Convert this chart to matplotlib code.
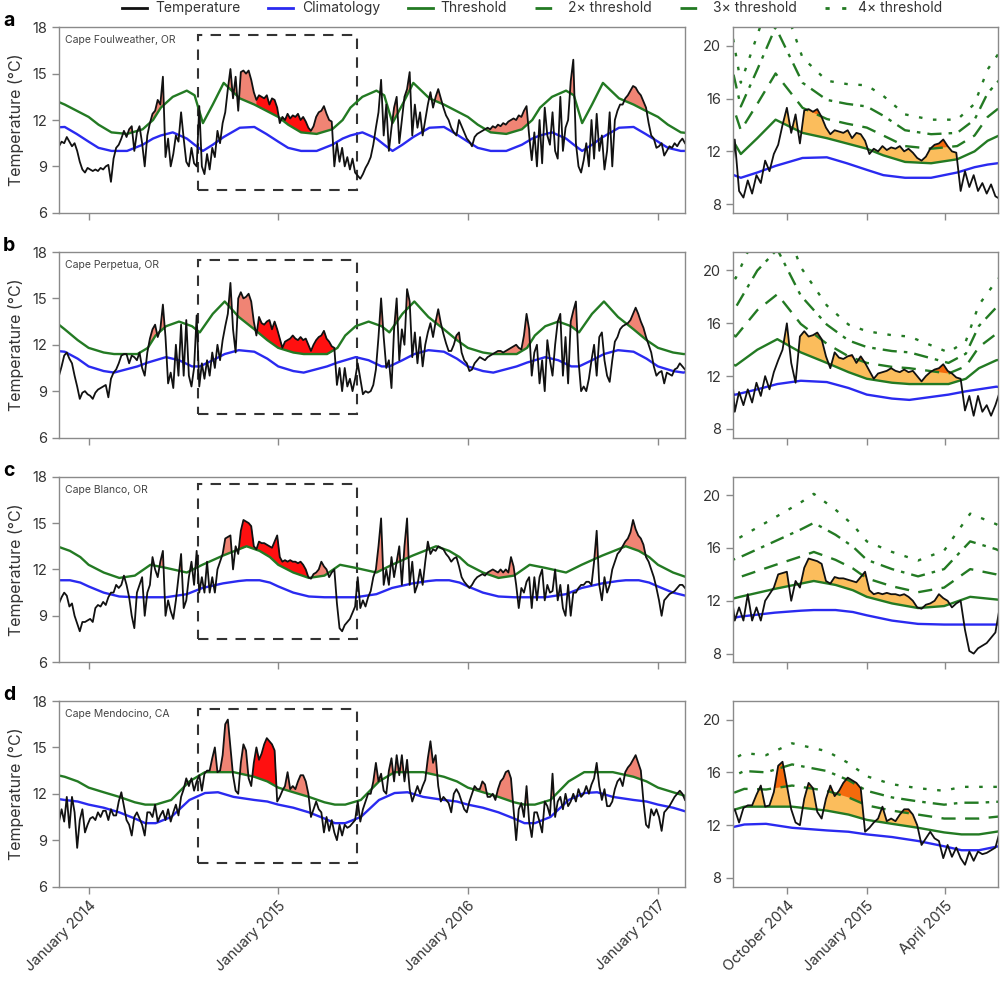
import matplotlib
matplotlib.use("Agg")
import matplotlib.pyplot as plt
import matplotlib.dates as mdates
from matplotlib.lines import Line2D
from matplotlib.patches import Rectangle
import numpy as np
import pandas as pd

plt.rcParams['font.family'] = ['Inter', 'DejaVu Sans']

# daily-ish temperature record, one value every 5 days starting 2013-11-05
series_start = "2013-11-05"
step_days = 5

temp_a = [
    10.3, 10.6, 10.5, 10.9, 10.6, 10.3, 10.5, 10.0, 9.3, 8.8,
    8.6, 8.9, 8.8, 8.7, 8.8, 8.7, 8.9, 8.8, 9.0, 9.1,
    8.0, 9.5, 10.2, 10.4, 10.8, 11.3, 10.9, 11.4, 11.6, 10.0,
    11.2, 11.6, 10.5, 9.0, 11.0, 11.8, 12.4, 12.6, 13.3, 13.0,
    14.8, 9.6, 10.8, 9.0, 9.8, 11.0, 10.6, 12.5, 10.8, 9.3,
    9.0, 10.2, 9.2, 9.0, 12.9, 9.0, 8.5, 9.8, 8.8, 10.2,
    9.6, 11.3, 10.5, 11.8, 12.5, 14.0, 15.3, 13.4, 14.8, 12.6,
    15.1, 15.2, 15.0, 15.2, 14.6, 13.8, 13.3, 13.6, 13.5, 13.4,
    13.6, 13.0, 13.4, 13.3, 12.8, 11.8, 12.2, 12.0, 12.4, 12.1,
    12.3, 12.2, 12.4, 12.0, 12.2, 11.9, 11.5, 11.3, 11.6, 12.2,
    12.5, 12.6, 12.9, 12.4, 12.0, 11.9, 9.0, 10.5, 9.3, 10.2,
    9.0, 9.6, 8.8, 9.5, 8.6, 8.4, 8.2, 8.5, 8.9, 9.2,
    9.6, 10.4, 11.5, 12.5, 14.6, 11.0, 13.0, 10.0, 11.5, 12.8,
    13.5, 10.5, 12.0, 13.5, 14.0, 15.1, 11.0, 13.0, 11.5, 12.5,
    11.0, 12.0, 13.0, 13.8, 12.8, 13.5, 14.0, 13.4, 12.8, 12.3,
    12.0, 11.5, 11.2, 11.0, 12.0, 11.6, 11.2, 10.8, 10.6, 10.3,
    10.9, 11.1, 11.2, 11.3, 11.4, 11.5, 11.4, 11.6, 11.5, 11.7,
    11.6, 11.8, 11.7, 11.9, 12.0, 12.1, 12.0, 12.3, 12.2, 12.6,
    12.9, 11.0, 9.4, 11.2, 9.0, 12.0, 9.2, 12.8, 11.0, 10.4,
    12.5, 10.0, 9.5, 13.5, 10.0, 11.5, 12.0, 14.5, 15.9, 10.5,
    9.0, 8.6, 9.4, 10.5, 9.0, 12.0, 9.5, 12.4, 10.0, 11.0,
    8.8, 10.0, 12.5, 9.0, 12.0, 12.6, 13.0, 13.0, 13.4, 13.6,
    13.9, 14.2, 14.1, 13.8, 13.6, 13.2, 12.8, 11.8, 11.0, 10.8,
    10.2, 10.3, 10.5, 9.7, 10.0, 10.3, 10.2, 10.5, 10.3, 10.6,
    10.8, 10.5,
]

temp_b = [
    10.0, 10.6, 11.3, 11.5, 11.1, 10.8, 10.0, 9.3, 8.5, 8.9,
    9.0, 8.8, 8.7, 8.5, 8.9, 9.1, 9.2, 9.3, 9.4, 8.6,
    9.8, 10.2, 10.4, 10.8, 11.3, 11.4, 11.4, 10.8, 11.3, 11.2,
    11.0, 11.5, 10.5, 10.0, 11.5, 12.4, 13.0, 13.3, 12.5, 13.0,
    14.6, 12.5, 9.5, 10.2, 9.2, 12.0, 10.0, 13.3, 10.0, 13.6,
    10.0, 9.3, 10.5, 13.9, 9.3, 10.8, 9.8, 11.0, 10.0, 11.5,
    10.5, 12.0, 11.0, 12.3, 13.2, 14.0, 16.0, 13.0, 11.5, 15.0,
    15.4, 15.0, 15.1, 15.3, 14.8, 13.5, 12.6, 13.8, 13.4, 13.3,
    13.5, 13.6, 13.0, 13.5, 13.0, 12.4, 11.8, 12.2, 12.3, 12.4,
    12.6, 12.4, 12.3, 12.5, 12.3, 12.4, 12.0, 11.6, 12.0, 12.3,
    12.5, 12.6, 12.9, 12.4, 12.2, 11.9, 11.8, 9.4, 10.5, 9.0,
    10.5, 9.3, 9.8, 9.0, 9.8, 10.8, 9.8, 8.8, 9.0, 8.9,
    9.0, 9.4, 10.4, 12.5, 15.0, 12.5, 10.5, 11.0, 9.2, 13.0,
    15.0, 11.0, 13.0, 12.0, 15.6, 14.8, 11.2, 12.8, 10.8, 12.5,
    10.6, 12.0, 12.8, 13.4, 12.5, 13.5, 14.3, 13.4, 12.7, 12.1,
    11.6, 11.6, 12.0, 12.6, 12.8, 11.5, 11.0, 10.8, 10.3, 10.4,
    10.8, 11.0, 11.2, 11.1, 11.0, 11.2, 11.3, 11.4, 11.5, 11.6,
    11.6, 11.5, 11.6, 11.7, 11.8, 11.9, 12.0, 11.8, 11.7, 12.6,
    14.0, 13.0, 10.0, 11.5, 12.0, 9.5, 11.0, 9.0, 12.3, 11.0,
    10.0, 12.0, 13.5, 14.0, 10.0, 12.5, 9.5, 13.5, 14.2, 14.8,
    11.0, 9.0, 9.3, 9.0, 9.8, 11.0, 12.0, 10.0, 12.5, 12.8,
    11.0, 10.0, 9.6, 11.0, 12.2, 12.5, 13.0, 13.2, 13.3, 13.4,
    13.6, 14.0, 14.4, 14.0, 13.5, 13.1, 12.5, 12.0, 11.5, 10.6,
    10.0, 10.2, 10.3, 9.5, 10.2, 10.1, 10.0, 10.4, 10.5, 10.8,
    10.6, 10.4,
]

temp_c = [
    9.8, 10.2, 10.5, 10.3, 9.6, 9.8, 9.0, 8.5, 8.0, 8.6,
    8.6, 8.7, 8.8, 8.6, 9.5, 9.7, 9.6, 9.9, 9.7, 10.2,
    10.5, 10.5, 11.0, 10.8, 11.0, 11.6, 11.0, 10.2, 9.0, 8.2,
    10.5, 11.0, 11.5, 9.0, 10.5, 11.0, 12.8, 12.0, 11.5, 12.5,
    13.2, 9.0, 10.0, 9.3, 8.8, 10.0, 11.5, 13.0, 9.5, 10.0,
    11.5, 12.5, 11.0, 13.2, 10.5, 11.5, 10.5, 12.5, 10.5, 11.5,
    10.5, 12.0, 12.5, 13.0, 14.0, 14.1, 14.2, 12.0, 13.5, 13.0,
    14.5, 15.2, 15.1, 15.0, 14.8, 13.5, 13.3, 13.8, 13.7, 13.7,
    13.6, 13.5, 13.4, 13.8, 14.2, 12.8, 12.5, 12.6, 12.5, 12.6,
    12.5, 12.5, 12.4, 12.5, 12.3, 12.0, 11.5, 11.4, 11.7, 11.8,
    12.0, 12.5, 12.2, 12.0, 11.5, 11.8, 12.0, 9.8, 8.2, 8.0,
    8.4, 8.6, 8.8, 9.2, 9.6, 11.5, 9.5, 10.0, 9.6, 10.2,
    10.6, 11.5, 12.0, 13.5, 15.3, 11.0, 12.0, 11.0, 12.8, 11.5,
    12.5, 13.5, 11.0, 13.5, 15.3, 11.0, 12.5, 10.5, 11.0, 12.0,
    11.0, 12.5, 13.8, 13.0, 13.3, 13.2, 13.5, 13.4, 13.3, 13.0,
    12.8, 12.5, 12.7, 12.8, 12.2, 11.5, 11.2, 11.0, 10.8, 11.0,
    11.3, 11.5, 11.6, 11.7, 11.6, 11.8, 11.9, 12.0, 11.9, 11.8,
    12.0, 11.8, 12.0, 11.8, 12.8, 12.2, 11.0, 9.5, 10.8, 10.5,
    11.2, 11.5, 9.5, 11.5, 10.0, 11.5, 12.0, 10.0, 11.0, 10.5,
    10.6, 12.0, 10.0, 11.0, 9.5, 9.0, 11.0, 9.0, 10.5, 10.5,
    10.8, 11.0, 11.0, 11.2, 11.2, 11.0, 12.5, 14.5, 11.0, 10.0,
    11.5, 10.5, 11.0, 12.0, 12.5, 13.0, 13.2, 13.5, 13.8, 14.0,
    14.4, 15.2, 14.6, 14.2, 14.0, 13.6, 12.8, 12.5, 12.0, 11.5,
    10.8, 10.0, 9.0, 10.0, 10.2, 10.4, 10.5, 10.6, 10.8, 11.0,
    11.0, 10.8,
]

temp_d = [
    10.2, 11.0, 10.2, 11.8, 9.8, 11.8, 10.8, 8.5, 10.3, 11.0,
    9.5, 10.0, 10.4, 10.5, 10.3, 10.8, 10.5, 10.9, 10.9, 10.3,
    11.0, 10.6, 10.6, 11.5, 12.1, 11.2, 10.3, 10.0, 9.3, 10.5,
    10.8, 10.4, 10.0, 9.3, 10.8, 10.8, 10.5, 11.3, 10.2, 10.6,
    10.9, 10.3, 11.0, 10.2, 10.8, 11.3, 10.6, 11.8, 12.3, 13.0,
    12.5, 13.0, 12.2, 12.8, 13.2, 12.2, 13.3, 13.5, 13.5, 14.3,
    15.0, 13.4, 13.5, 14.5, 16.5, 16.8, 15.0, 13.2, 12.2, 12.0,
    14.0, 15.2, 14.8, 13.0, 12.5, 14.0, 15.0, 14.2, 14.6, 15.2,
    15.6, 15.4, 15.2, 14.8, 11.5, 11.8, 12.2, 12.5, 13.4, 12.3,
    12.5, 12.3, 12.8, 13.2, 13.2, 12.8, 12.0, 10.5, 11.0, 11.5,
    11.0, 10.8, 9.5, 10.5, 9.6, 10.3, 9.5, 9.0, 10.0, 9.3,
    10.0, 9.8, 9.9, 10.1, 10.3, 11.5, 10.2, 11.0, 11.5, 12.0,
    12.0, 12.8, 14.0, 12.8, 13.3, 12.2, 12.0, 13.5, 14.3, 12.8,
    14.5, 13.2, 14.5, 12.8, 14.2, 12.3, 11.5, 12.0, 12.5, 12.0,
    12.5, 12.9, 14.3, 15.4, 14.0, 14.5, 12.5, 11.5, 11.8, 11.6,
    11.4, 10.8, 12.0, 12.3, 12.0, 11.5, 11.0, 10.8, 11.5, 12.0,
    12.5, 12.3, 12.3, 12.8, 12.6, 11.8, 11.8, 12.0, 11.6, 12.3,
    12.8, 13.0, 13.4, 13.5, 13.0, 11.0, 9.0, 11.0, 11.4, 10.5,
    12.5, 10.2, 9.2, 10.8, 10.8, 10.2, 9.5, 11.5, 11.2, 10.6,
    13.3, 10.5, 11.5, 11.8, 11.0, 12.0, 11.2, 11.5, 12.0, 11.5,
    12.3, 11.8, 12.0, 12.5, 12.0, 12.6, 13.0, 14.0, 12.5, 11.6,
    12.3, 11.2, 11.2, 11.5, 12.3, 12.8, 13.0, 12.5, 13.4, 13.7,
    13.9, 14.2, 14.5, 14.0, 13.5, 11.5, 10.0, 9.8, 11.0, 10.6,
    11.0, 10.5, 9.6, 10.8, 11.0, 11.2, 11.5, 11.8, 12.0, 12.2,
    12.0, 11.6,
]

# seasonal climatology and threshold, given at day-of-year knots
doy_a = [1, 20, 45, 75, 105, 125, 140, 163, 190, 205, 221, 240, 261, 292, 320, 343]
clim_a = [10.6, 10.2, 10.0, 10.0, 10.4, 10.8, 11.0, 11.2, 10.8, 10.4, 10.0, 10.4, 10.9, 11.5, 11.55, 11.1]
thresh_a = [12.2, 11.7, 11.2, 11.1, 11.4, 12.0, 12.8, 13.5, 13.9, 13.6, 11.8, 13.0, 14.4, 13.4, 13.0, 12.6]

doy_b = [1, 30, 50, 95, 115, 130, 150, 175, 200, 215, 240, 263, 290, 320, 345]
clim_b = [10.6, 10.3, 10.2, 10.6, 10.85, 11.0, 11.2, 11.0, 10.6, 10.6, 11.0, 11.4, 11.65, 11.55, 11.1]
thresh_b = [11.8, 11.5, 11.4, 11.4, 11.8, 12.6, 13.2, 13.5, 13.2, 12.8, 14.0, 14.8, 13.8, 13.0, 12.3]

doy_c = [1, 30, 60, 90, 120, 150, 190, 220, 260, 290, 305, 330, 350]
clim_c = [10.9, 10.5, 10.25, 10.2, 10.2, 10.2, 10.4, 10.8, 11.1, 11.25, 11.3, 11.3, 11.15]
thresh_c = [12.3, 11.8, 11.45, 11.6, 12.3, 12.1, 11.8, 12.3, 12.9, 13.3, 13.5, 13.2, 12.8]

doy_d = [1, 30, 60, 90, 110, 130, 160, 195, 225, 250, 280, 320, 345]
clim_d = [11.3, 11.1, 10.8, 10.4, 10.1, 10.1, 10.5, 11.6, 12.05, 12.1, 11.8, 11.6, 11.5]
thresh_d = [12.4, 12.1, 11.8, 11.45, 11.3, 11.3, 11.6, 12.8, 13.4, 13.4, 13.4, 13.1, 12.8]

stations = ["Cape Foulweather, OR", "Cape Perpetua, OR", "Cape Blanco, OR", "Cape Mendocino, CA"]
letters = ["a", "b", "c", "d"]
temps = [temp_a, temp_b, temp_c, temp_d]
doys = [doy_a, doy_b, doy_c, doy_d]
clims = [clim_a, clim_b, clim_c, clim_d]
threshs = [thresh_a, thresh_b, thresh_c, thresh_d]

# the long events drawn in bright red on the overview panels
red_windows = [("2014-11-18", "2015-03-05"), ("2014-11-20", "2015-04-25"),
               ("2014-10-15", "2015-02-25"), ("2014-11-12", "2014-12-31")]

zoom_window = ("2014-07-31", "2015-06-01")
box_range = (7.5, 17.5)

left_ticks = ["2014-01-01", "2015-01-01", "2016-01-01", "2017-01-01"]
left_labels = ["January 2014", "January 2015", "January 2016", "January 2017"]
right_ticks = ["2014-10-01", "2015-01-01", "2015-04-01"]
right_labels = ["October 2014", "January 2015", "April 2015"]

years = [2013, 2014, 2015, 2016, 2017]

black = "#111111"
blue = "#2a2af0"
green = "#237a23"
salmon = "#f08474"
red = "#ff1010"
light_orange = "#fbbd5c"
dark_orange = "#f46a0c"
spine_col = "#8a8a8a"
text_col = "#333333"
multi_styles = [(0, (6, 4)), (0, (6, 3, 1.5, 3)), (0, (1.5, 4.5))]


def tile_seasonal(doy, vals):
    d, v = [], []
    for yr in years:
        base = pd.Timestamp(yr, 1, 1)
        for k, val in zip(doy, vals):
            d.append(base + pd.Timedelta(days=k - 1))
            v.append(val)
    return pd.DatetimeIndex(d), np.array(v)


def style_axis(ax):
    for s in ax.spines.values():
        s.set_color(spine_col)
        s.set_linewidth(1.0)
    ax.tick_params(colors=spine_col, labelcolor=text_col, labelsize=10.5, length=5, width=1.0)


fig = plt.figure(figsize=(10, 9.91), dpi=100)

row_bottoms = [0.7853, 0.5585, 0.3318, 0.1054]
row_h = 0.1872
z0, z1 = pd.Timestamp(zoom_window[0]), pd.Timestamp(zoom_window[1])

for k in range(4):
    temp = np.array(temps[k])
    t = pd.date_range(series_start, periods=len(temp), freq=f"{step_days}D")
    tn = mdates.date2num(t)
    cd, cv = tile_seasonal(doys[k], clims[k])
    _, tv = tile_seasonal(doys[k], threshs[k])
    cn = mdates.date2num(cd)
    thr_t = np.interp(tn, cn, tv)
    clim_t = np.interp(tn, cn, cv)
    two_t = clim_t + 2 * (thr_t - clim_t)
    above = temp > thr_t

    # overview panel
    axl = fig.add_axes([0.059, row_bottoms[k], 0.626, row_h])
    axl.fill_between(t, thr_t, temp, where=above, interpolate=True, color=salmon, lw=0)
    w0, w1 = pd.Timestamp(red_windows[k][0]), pd.Timestamp(red_windows[k][1])
    in_red = above & (t >= w0) & (t <= w1)
    axl.fill_between(t, thr_t, temp, where=in_red, interpolate=True, color=red, lw=0)
    axl.plot(cd, cv, color=blue, lw=1.7)
    axl.plot(cd, tv, color=green, lw=1.7)
    axl.plot(t, temp, color=black, lw=1.3)
    axl.add_patch(Rectangle((mdates.date2num(z0), box_range[0]),
                            mdates.date2num(z1) - mdates.date2num(z0),
                            box_range[1] - box_range[0],
                            fill=False, ec="#333333", lw=1.5, ls=(0, (5, 4))))
    axl.set_xlim(t[0], t[-1])
    axl.set_ylim(6, 18)
    axl.set_yticks([6, 9, 12, 15, 18])
    axl.set_xticks(mdates.date2num(pd.to_datetime(left_ticks)))
    if k == 3:
        axl.set_xticklabels(left_labels, rotation=45, ha="right", rotation_mode="anchor")
    else:
        axl.set_xticklabels([])
    axl.set_ylabel("Temperature (°C)", fontsize=11.5, color=text_col, labelpad=6)
    axl.text(0.009, 0.93, stations[k], transform=axl.transAxes, fontsize=7.5,
             color="#444444", va="center", ha="left")
    style_axis(axl)
    fig.text(0.003, row_bottoms[k] + row_h + 0.006, letters[k], fontsize=14,
             fontweight="bold", va="center", ha="left")

    # zoomed panel
    axr = fig.add_axes([0.733, row_bottoms[k], 0.265, row_h])
    axr.fill_between(t, thr_t, temp, where=above, interpolate=True, color=light_orange, lw=0)
    axr.fill_between(t, two_t, temp, where=temp > two_t, interpolate=True, color=dark_orange, lw=0)
    for n, ls in zip([2, 3, 4], multi_styles):
        axr.plot(cd, cv + n * (tv - cv), color=green, lw=1.7, ls=ls)
    axr.plot(cd, tv, color=green, lw=1.7)
    axr.plot(cd, cv, color=blue, lw=1.7)
    axr.plot(t, temp, color=black, lw=1.3)
    axr.set_xlim(z0, z1)
    axr.set_ylim(7.35, 21.4)
    axr.set_yticks([8, 12, 16, 20])
    axr.set_xticks(mdates.date2num(pd.to_datetime(right_ticks)))
    if k == 3:
        axr.set_xticklabels(right_labels, rotation=45, ha="right", rotation_mode="anchor")
    else:
        axr.set_xticklabels([])
    style_axis(axr)

handles = [Line2D([], [], color=black, lw=2),
           Line2D([], [], color=blue, lw=2),
           Line2D([], [], color=green, lw=2)]
handles += [Line2D([], [], color=green, lw=2, ls=ls) for ls in multi_styles]
labels = ["Temperature", "Climatology", "Threshold", "2× threshold", "3× threshold", "4× threshold"]
fig.legend(handles, labels, loc="center", bbox_to_anchor=(0.532, 0.9915), ncol=6,
           frameon=False, fontsize=10, handlelength=1.8, columnspacing=2.0,
           handletextpad=0.6, labelcolor=text_col)

fig.savefig("out.png", dpi=100)
